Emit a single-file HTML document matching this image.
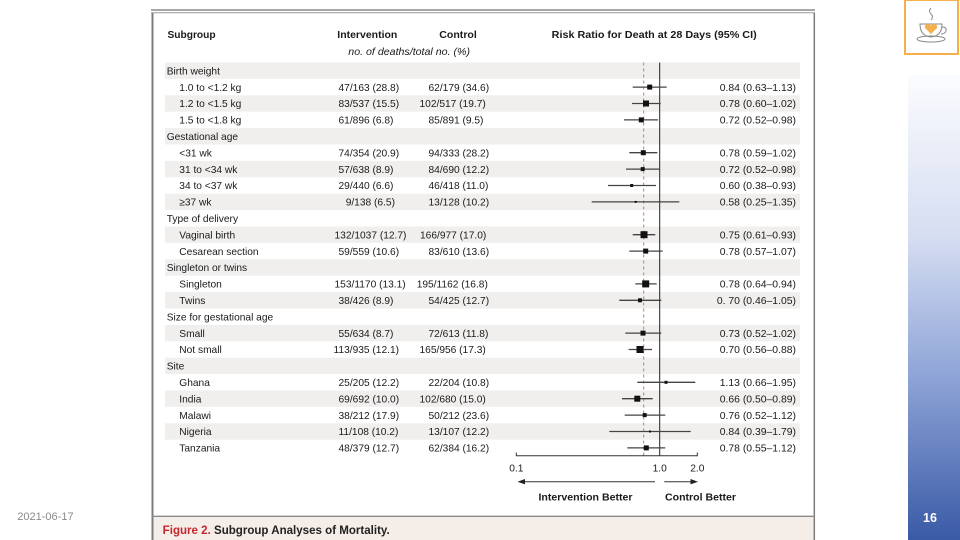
<!DOCTYPE html>
<html><head><meta charset="utf-8"><style>
html,body{margin:0;padding:0;background:#fff;}
svg{display:block;}
text{font-family:"Liberation Sans",Arial,sans-serif;}
</style></head><body>
<svg width="960" height="540" viewBox="0 0 960 540" xmlns="http://www.w3.org/2000/svg">
<defs>
<linearGradient id="bar" x1="0" y1="0" x2="0" y2="1">
<stop offset="0" stop-color="#fbfcfe"/>
<stop offset="0.35" stop-color="#d5ddf1"/>
<stop offset="0.65" stop-color="#8ea4d7"/>
<stop offset="1" stop-color="#3a5aa6"/>
</linearGradient>
</defs>
<rect x="0" y="0" width="960" height="540" fill="#fff"/>
<!-- right slide bar -->
<rect x="908" y="74" width="52" height="466" fill="url(#bar)"/>
<text x="930" y="522" font-size="12.5" font-weight="bold" fill="#fff" text-anchor="middle">16</text>
<!-- logo -->
<rect x="905" y="0" width="53" height="54" fill="#fff" stroke="#f5b04d" stroke-width="2"/>
<g fill="none" stroke="#888" stroke-width="1">
<path d="M931 8 q-3 3 0 6 q3 3 0 6"/>
<path d="M920 24 h22 q0 12 -11 13 q-11 -1 -11 -13 z"/>
<path d="M942 27 q5 0 4 4 q-1 3 -5 3"/>
<ellipse cx="931" cy="39" rx="14" ry="3"/>
</g>
<path d="M931 34 l-6 -6 a3 3 0 0 1 6 -2 a3 3 0 0 1 6 2 z" fill="#f5b04d"/>
<!-- date -->
<text x="17.3" y="520" font-size="11" fill="#8a8a8a">2021-06-17</text>

<!-- figure frame -->
<line x1="151" y1="10" x2="815" y2="10" stroke="#8a8a8a" stroke-width="1.5"/>
<line x1="151" y1="12.7" x2="815" y2="12.7" stroke="#9a9a9a" stroke-width="1"/>
<rect x="152.5" y="516.5" width="662" height="24" fill="#f4ede8"/>
<line x1="152.5" y1="13" x2="152.5" y2="540" stroke="#7d7d7d" stroke-width="2"/>
<line x1="814.3" y1="13" x2="814.3" y2="540" stroke="#7d7d7d" stroke-width="1.5"/>
<line x1="152" y1="516.3" x2="815" y2="516.3" stroke="#8a8a8a" stroke-width="1.3"/>
<text x="162.7" y="534" font-size="11.5" font-weight="bold" fill="#222" textLength="227" lengthAdjust="spacingAndGlyphs"><tspan fill="#c4262e">Figure 2.</tspan> Subgroup Analyses of Mortality.</text>

<!-- shaded bands -->
<g fill="#f0efee">
<rect x="165" y="62.5" width="635" height="16.4"/>
<rect x="165" y="95.3" width="635" height="16.4"/>
<rect x="165" y="128.1" width="635" height="16.4"/>
<rect x="165" y="160.9" width="635" height="16.4"/>
<rect x="165" y="193.7" width="635" height="16.4"/>
<rect x="165" y="226.5" width="635" height="16.4"/>
<rect x="165" y="259.3" width="635" height="16.4"/>
<rect x="165" y="292.1" width="635" height="16.4"/>
<rect x="165" y="324.9" width="635" height="16.4"/>
<rect x="165" y="357.7" width="635" height="16.4"/>
<rect x="165" y="390.5" width="635" height="16.4"/>
<rect x="165" y="423.3" width="635" height="16.4"/>
</g>

<!-- headers -->
<g font-size="10.2" font-weight="bold" fill="#1a1a1a">
<text x="167.5" y="38">Subgroup</text>
<text x="337.3" y="38" textLength="60" lengthAdjust="spacingAndGlyphs">Intervention</text>
<text x="439.3" y="38" textLength="37.5" lengthAdjust="spacingAndGlyphs">Control</text>
<text x="551.7" y="38" textLength="205" lengthAdjust="spacingAndGlyphs">Risk Ratio for Death at 28 Days (95% CI)</text>
</g>
<text x="348.3" y="55" font-size="10.2" font-style="italic" fill="#1a1a1a" textLength="121.7" lengthAdjust="spacingAndGlyphs">no. of deaths/total no. (%)</text>

<!-- row labels -->
<g font-size="10.2" fill="#1a1a1a">
<text x="166.7" y="74.4">Birth weight</text>
<text x="179.3" y="90.8">1.0 to &lt;1.2 kg</text>
<text x="179.3" y="107.2">1.2 to &lt;1.5 kg</text>
<text x="179.3" y="123.6">1.5 to &lt;1.8 kg</text>
<text x="166.7" y="140.0">Gestational age</text>
<text x="179.3" y="156.4">&lt;31 wk</text>
<text x="179.3" y="172.8">31 to &lt;34 wk</text>
<text x="179.3" y="189.2">34 to &lt;37 wk</text>
<text x="179.3" y="205.6">≥37 wk</text>
<text x="166.7" y="222.0">Type of delivery</text>
<text x="179.3" y="238.4">Vaginal birth</text>
<text x="179.3" y="254.8">Cesarean section</text>
<text x="166.7" y="271.2">Singleton or twins</text>
<text x="179.3" y="287.6">Singleton</text>
<text x="179.3" y="304.0">Twins</text>
<text x="166.7" y="320.4">Size for gestational age</text>
<text x="179.3" y="336.8">Small</text>
<text x="179.3" y="353.2">Not small</text>
<text x="166.7" y="369.6">Site</text>
<text x="179.3" y="386.0">Ghana</text>
<text x="179.3" y="402.4">India</text>
<text x="179.3" y="418.8">Malawi</text>
<text x="179.3" y="435.2">Nigeria</text>
<text x="179.3" y="451.6">Tanzania</text>

<!-- intervention -->
<text x="338.5" y="90.8">47/163 (28.8)</text>
<text x="338.5" y="107.2">83/537 (15.5)</text>
<text x="338.5" y="123.6">61/896 (6.8)</text>
<text x="338.5" y="156.4">74/354 (20.9)</text>
<text x="338.5" y="172.8">57/638 (8.9)</text>
<text x="338.5" y="189.2">29/440 (6.6)</text>
<text x="345.7" y="205.6">9/138 (6.5)</text>
<text x="334.5" y="238.4">132/1037 (12.7)</text>
<text x="338.5" y="254.8">59/559 (10.6)</text>
<text x="334.5" y="287.6">153/1170 (13.1)</text>
<text x="338.5" y="304.0">38/426 (8.9)</text>
<text x="338.5" y="336.8">55/634 (8.7)</text>
<text x="333.5" y="353.2">113/935 (12.1)</text>
<text x="338.5" y="386.0">25/205 (12.2)</text>
<text x="338.5" y="402.4">69/692 (10.0)</text>
<text x="338.5" y="418.8">38/212 (17.9)</text>
<text x="338.5" y="435.2">11/108 (10.2)</text>
<text x="338.5" y="451.6">48/379 (12.7)</text>

<!-- control -->
<text x="428.5" y="90.8">62/179 (34.6)</text>
<text x="419.5" y="107.2">102/517 (19.7)</text>
<text x="428.5" y="123.6">85/891 (9.5)</text>
<text x="428.5" y="156.4">94/333 (28.2)</text>
<text x="428.5" y="172.8">84/690 (12.2)</text>
<text x="428.5" y="189.2">46/418 (11.0)</text>
<text x="428.5" y="205.6">13/128 (10.2)</text>
<text x="420" y="238.4">166/977 (17.0)</text>
<text x="428.5" y="254.8">83/610 (13.6)</text>
<text x="416.7" y="287.6">195/1162 (16.8)</text>
<text x="428.5" y="304.0">54/425 (12.7)</text>
<text x="428.5" y="336.8">72/613 (11.8)</text>
<text x="419.5" y="353.2">165/956 (17.3)</text>
<text x="428.5" y="386.0">22/204 (10.8)</text>
<text x="419.5" y="402.4">102/680 (15.0)</text>
<text x="428.5" y="418.8">50/212 (23.6)</text>
<text x="428.5" y="435.2">13/107 (12.2)</text>
<text x="428.5" y="451.6">62/384 (16.2)</text>
</g>

<!-- RR values -->
<g font-size="10.4" fill="#1a1a1a" text-anchor="end">
<text x="796" y="90.8">0.84 (0.63–1.13)</text>
<text x="796" y="107.2">0.78 (0.60–1.02)</text>
<text x="796" y="123.6">0.72 (0.52–0.98)</text>
<text x="796" y="156.4">0.78 (0.59–1.02)</text>
<text x="796" y="172.8">0.72 (0.52–0.98)</text>
<text x="796" y="189.2">0.60 (0.38–0.93)</text>
<text x="796" y="205.6">0.58 (0.25–1.35)</text>
<text x="796" y="238.4">0.75 (0.61–0.93)</text>
<text x="796" y="254.8">0.78 (0.57–1.07)</text>
<text x="796" y="287.6">0.78 (0.64–0.94)</text>
<text x="796" y="304.0">0. 70 (0.46–1.05)</text>
<text x="796" y="336.8">0.73 (0.52–1.02)</text>
<text x="796" y="353.2">0.70 (0.56–0.88)</text>
<text x="796" y="386.0">1.13 (0.66–1.95)</text>
<text x="796" y="402.4">0.66 (0.50–0.89)</text>
<text x="796" y="418.8">0.76 (0.52–1.12)</text>
<text x="796" y="435.2">0.84 (0.39–1.79)</text>
<text x="796" y="451.6">0.78 (0.55–1.12)</text>
</g>

<!-- reference lines -->
<line x1="643.7" y1="62.5" x2="643.7" y2="455.7" stroke="#d77070" stroke-width="1" stroke-dasharray="3,3"/>
<line x1="659.7" y1="62.5" x2="659.7" y2="455.7" stroke="#222" stroke-width="1"/>

<!-- CI lines -->
<g stroke="#444" stroke-width="1.3">
<line x1="632.7" y1="87.1" x2="666.7" y2="87.1"/>
<line x1="632" y1="103.5" x2="660.7" y2="103.5"/>
<line x1="624" y1="119.9" x2="658" y2="119.9"/>
<line x1="629.3" y1="152.7" x2="657.3" y2="152.7"/>
<line x1="626" y1="169.1" x2="660" y2="169.1"/>
<line x1="608" y1="185.5" x2="656" y2="185.5"/>
<line x1="591.7" y1="201.9" x2="679.3" y2="201.9"/>
<line x1="632.7" y1="234.7" x2="655.3" y2="234.7"/>
<line x1="629.3" y1="251.1" x2="662.7" y2="251.1"/>
<line x1="635.3" y1="283.9" x2="656.7" y2="283.9"/>
<line x1="619.3" y1="300.3" x2="661.3" y2="300.3"/>
<line x1="625.3" y1="333.1" x2="661.3" y2="333.1"/>
<line x1="628.7" y1="349.5" x2="652" y2="349.5"/>
<line x1="637.3" y1="382.3" x2="695.3" y2="382.3"/>
<line x1="622" y1="398.7" x2="652.7" y2="398.7"/>
<line x1="624.7" y1="415.1" x2="665.3" y2="415.1"/>
<line x1="609.3" y1="431.5" x2="690.7" y2="431.5"/>
<line x1="627.3" y1="447.9" x2="665.3" y2="447.9"/>
</g>
<!-- squares -->
<g fill="#111">
<rect x="647.2" y="84.6" width="5" height="5"/>
<rect x="643" y="100.5" width="6" height="6"/>
<rect x="638.8" y="117.4" width="5" height="5"/>
<rect x="640.8" y="150.2" width="5" height="5"/>
<rect x="640.7" y="167.1" width="4" height="4"/>
<rect x="630.2" y="184" width="3" height="3"/>
<rect x="634.7" y="200.9" width="2" height="2"/>
<rect x="640.5" y="231.2" width="7" height="7"/>
<rect x="643.2" y="248.6" width="5" height="5"/>
<rect x="642.2" y="280.4" width="7" height="7"/>
<rect x="638" y="298.3" width="4" height="4"/>
<rect x="640.5" y="330.6" width="5" height="5"/>
<rect x="636.5" y="346" width="7" height="7"/>
<rect x="664.5" y="380.8" width="3" height="3"/>
<rect x="634.3" y="395.7" width="6" height="6"/>
<rect x="642.7" y="413.1" width="4" height="4"/>
<rect x="649" y="430.5" width="2" height="2"/>
<rect x="643.8" y="445.4" width="5" height="5"/>
</g>

<!-- axis -->
<g stroke="#333" stroke-width="1" fill="none">
<line x1="516.3" y1="455.7" x2="697.3" y2="455.7"/>
<line x1="516.3" y1="452.5" x2="516.3" y2="456.2"/>
<line x1="697.3" y1="452.5" x2="697.3" y2="456.2"/>
<line x1="523" y1="481.7" x2="655" y2="481.7"/>
<line x1="664.3" y1="481.7" x2="692" y2="481.7"/>
</g>
<path d="M517.5 481.7 L525 479 L525 484.4 Z" fill="#222"/>
<path d="M698 481.7 L690.5 479 L690.5 484.4 Z" fill="#222"/>
<g font-size="10.2" fill="#1a1a1a" text-anchor="middle">
<text x="516.3" y="471.5">0.1</text>
<text x="659.7" y="471.5">1.0</text>
<text x="697.3" y="471.5">2.0</text>
</g>
<g font-size="10.2" font-weight="bold" fill="#1a1a1a">
<text x="538.5" y="500.7" textLength="94" lengthAdjust="spacingAndGlyphs">Intervention Better</text>
<text x="665" y="500.7" textLength="71" lengthAdjust="spacingAndGlyphs">Control Better</text>
</g>
</svg>
</body></html>
